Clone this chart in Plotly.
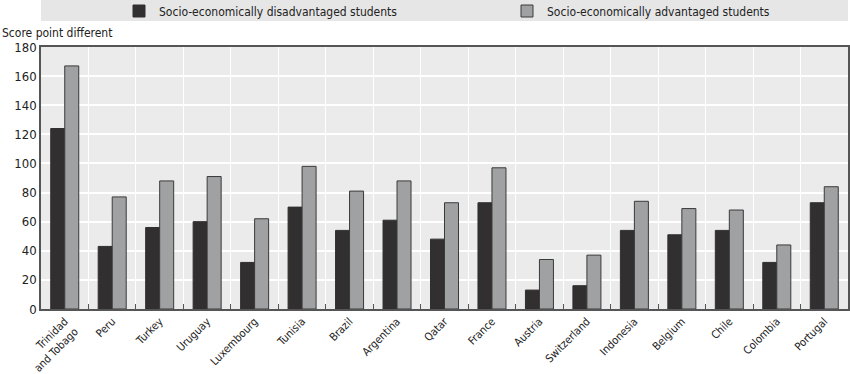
import plotly.graph_objects as go

countries = ["Trinidad<br>and Tobago", "Peru", "Turkey", "Uruguay", "Luxembourg", "Tunisia",
             "Brazil", "Argentina", "Qatar", "France", "Austria", "Switzerland",
             "Indonesia", "Belgium", "Chile", "Colombia", "Portugal"]
disadvantaged = [124, 43, 56, 60, 32, 70, 54, 61, 48, 73, 13, 16, 54, 51, 54, 32, 73]
advantaged = [167, 77, 88, 91, 62, 98, 81, 88, 73, 97, 34, 37, 74, 69, 68, 44, 84]
y_ticks = [0, 20, 40, 60, 80, 100, 120, 140, 160, 180]

FONT = "DejaVu Sans Condensed, Liberation Sans Narrow, sans-serif"

fig = go.Figure()
fig.add_trace(go.Bar(x=countries, y=disadvantaged, name="Socio-economically disadvantaged students",
                     marker=dict(color="#322f30", line=dict(color="#322f30", width=1)),
                     legend="legend"))
fig.add_trace(go.Bar(x=countries, y=advantaged, name="Socio-economically advantaged students",
                     marker=dict(color="#a0a1a3", line=dict(color="#3a3a3a", width=1)),
                     legend="legend2"))

leg_common = dict(orientation="h", xanchor="left", yanchor="middle",
                  bgcolor="rgba(0,0,0,0)", font=dict(size=12, family=FONT, color="#222"))

fig.update_layout(
    width=850, height=374,
    margin=dict(l=41, r=2, t=47, b=65, autoexpand=False),
    paper_bgcolor="white",
    plot_bgcolor="#ebebeb",
    barmode="group",
    bargap=0.41,
    bargroupgap=0,
    font=dict(family=FONT, size=12, color="#222"),
    showlegend=True,
    legend=dict(x=(119 - 41) / 807, y=(309 - 11) / 262, **leg_common),
    legend2=dict(x=(507 - 41) / 807, y=(309 - 11) / 262, **leg_common),
    shapes=[dict(type="rect", xref="paper", yref="paper", x0=0, x1=1,
                 y0=1 + 26 / 262, y1=1 + 47 / 262, fillcolor="#e6e6e6",
                 line=dict(width=0), layer="below")],
    annotations=[dict(text="Score point different", xref="paper", yref="paper",
                      x=-41 / 807, y=(309 - 33) / 262, xanchor="left", yanchor="middle",
                      showarrow=False, font=dict(size=12, family=FONT))],
)
fig.update_xaxes(
    type="category", tickson="boundaries", tickangle=-45, automargin=False,
    ticks="inside", ticklen=5, tickcolor="#555", tickwidth=1,
    showgrid=True, gridcolor="white", gridwidth=1.2,
    showline=True, linecolor="#555", linewidth=1.5, mirror=True,
    tickfont=dict(size=11, family=FONT),
)
fig.update_yaxes(
    range=[0, 180], tickvals=y_ticks, showgrid=True, gridcolor="white", gridwidth=1.5,
    showline=True, linecolor="#555", linewidth=1.5, mirror=True, zeroline=False,
    ticks="", automargin=False, tickfont=dict(size=13, family=FONT),
)

fig.write_html("out.html", config={"displayModeBar": False},
               post_script="document.body.style.margin='0px';")
